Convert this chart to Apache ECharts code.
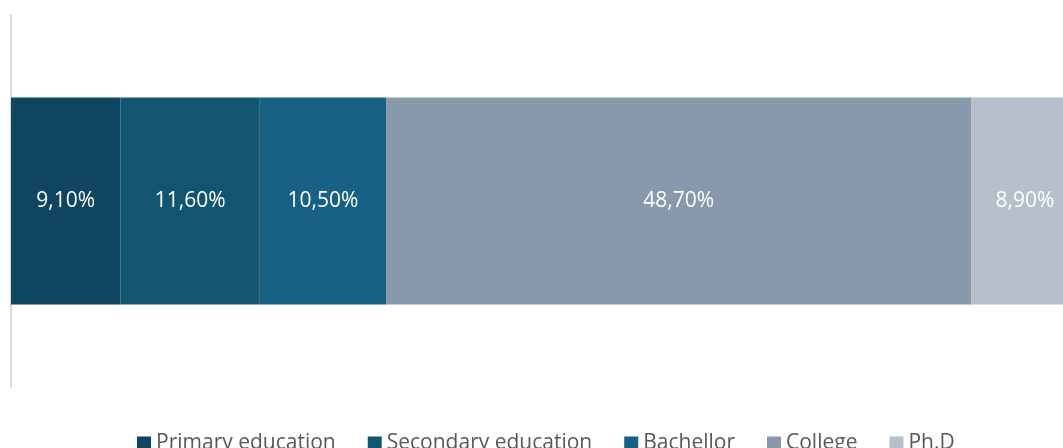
<!DOCTYPE html>
<html>
<head>
<meta charset="utf-8">
<script src="https://cdn.jsdelivr.net/npm/echarts@6/dist/echarts.min.js"></script>
<style>
html,body{margin:0;padding:0;background:#fff;}
#chart{width:1063px;height:448px;}
</style>
</head>
<body>
<div id="chart"></div>
<script>
const categories = ["Education"];
const seriesNames = ["Primary education", "Secondary education", "Bachellor", "College", "Ph.D"];
const seriesValues = [9.1, 11.6, 10.5, 48.7, 8.9];
const colors = ["#0F4560", "#125570", "#186084", "#8799AA", "#B5C0CA"];

const chart = echarts.init(document.getElementById('chart'));
const series = seriesNames.map((name, i) => ({
  name: name,
  type: 'bar',
  stack: 'total',
  barWidth: 207,
  clip: false,
  itemStyle: { color: colors[i] },
  label: {
    show: true,
    position: 'inside',
    color: '#ffffff',
    fontFamily: 'Open Sans',
    fontSize: 21,
    formatter: p => p.value.toFixed(2).replace('.', ',') + '%'
  },
  data: [seriesValues[i]]
}));

chart.setOption({
  animation: false,
  grid: { left: 11, top: 15, bottom: 61, width: 1202, outerBoundsMode: 'none', containLabel: false },
  xAxis: {
    type: 'value', min: 0, max: 100, show: false
  },
  yAxis: {
    type: 'category',
    data: categories,
    axisLine: { show: true, lineStyle: { color: '#D9D9D9', width: 2 } },
    axisTick: { show: false },
    axisLabel: { show: false }
  },
  legend: {
    left: 132,
    top: 428,
    itemWidth: 14,
    itemHeight: 14,
    itemGap: 32,
    icon: 'rect',
    textStyle: { color: '#595959', fontFamily: 'Open Sans', fontSize: 21 },
    data: seriesNames
  },
  series: series
});
</script>
</body>
</html>
